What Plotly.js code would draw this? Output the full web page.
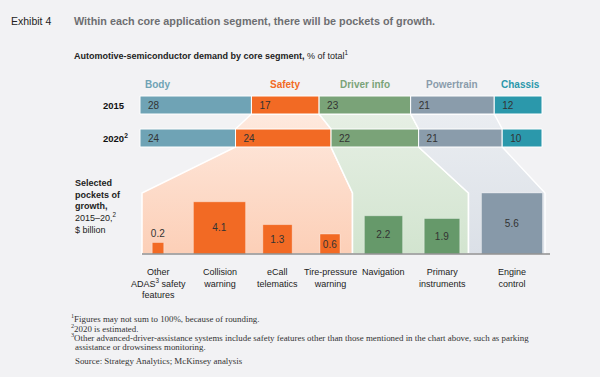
<!DOCTYPE html>
<html>
<head>
<meta charset="utf-8">
<script src="https://cdn.plot.ly/plotly-3.0.1.min.js"></script>
<style>html,body{margin:0;padding:0;background:#f2f2f4;}#chart{width:600px;height:377px;}</style>
</head>
<body>
<div id="chart"></div>
<script>
// ---------- DATA ----------
const segments = ['Body', 'Safety', 'Driver info', 'Powertrain', 'Chassis'];
const share2015 = [28, 17, 23, 21, 12];
const share2020 = [24, 24, 22, 21, 10];
const years = ['2015', '2020<sup>2</sup>'];

const pockets = ['Other<br>ADAS<sup>3</sup> safety<br>features', 'Collision<br>warning', 'eCall<br>telematics',
                 'Tire-pressure<br>warning', 'Navigation', 'Primary<br>instruments', 'Engine<br>control'];
const growth = [0.2, 4.1, 1.3, 0.6, 2.2, 1.9, 5.6];
const growthLabels = ['0.2', '4.1', '1.3', '0.6', '2.2', '1.9', '5.6'];
const pocketSegment = [1, 1, 1, 1, 2, 2, 3];

const footnotes = [
  '<sup>1</sup>Figures may not sum to 100%, because of rounding.',
  '<sup>2</sup>2020 is estimated.',
  '<sup>3</sup>Other advanced-driver-assistance systems include safety features other than those mentioned in the chart above, such as parking',
  'assistance or drowsiness monitoring.'
];
const sourceText = 'Source: Strategy Analytics; McKinsey analysis';

// ---------- STYLE / LAYOUT ----------
const segColors = ['#6fa3b5', '#f26a24', '#7aa378', '#8a9cab', '#2b98ab'];
const pocketColors = {1: '#f26a24', 2: '#66996a', 3: '#8799a9'};
const funnelFill = {
  1: ['#fccfb7', '#fee9de'],
  2: ['#d2e4cf', '#e6efe4'],
  3: ['#dbe0e7', '#eaedf1']
};
const W = 600, H = 377;
const K = 402 / 101;              // px per unit (shared x / y scale)
const X0 = 140, BASE = 254;       // pixel anchors
const ux = px => (px - X0) / K;
const uy = py => (BASE - py) / K;
const pxp = px => px / W;
const pyp = py => 1 - py / H;

const rowY = [uy(105), uy(138)];
const rowW = 18 / K;
const pocketCentersPx = [158, 219.5, 277.5, 330, 383.5, 442, 512];
const funnelBottomPx = {1: [142, 352.5], 2: [352.5, 468.5], 3: [468.5, 545]};
const shoulderY = uy(193);
const sideScale = 6.48;           // square side units per sqrt($bn), area ∝ value

function cum(arr) { const out = []; let s = 0; arr.forEach(v => { out.push(s); s += v; }); return out; }
const cum2015 = cum(share2015);
const cum2020 = cum(share2020);

const traces = [];

// funnel polygons (bottom layer: x / y)
[1, 2, 3].forEach(i => {
  const s15 = cum2015[i], e15 = s15 + share2015[i];
  const s20 = cum2020[i], e20 = s20 + share2020[i];
  const y15b = rowY[0] - rowW / 2, y20t = rowY[1] + rowW / 2, y20b = rowY[1] - rowW / 2;
  const [bl, br] = funnelBottomPx[i].map(ux);
  traces.push({
    type: 'scatter', mode: 'lines', fill: 'toself', hoverinfo: 'skip', showlegend: false,
    x: [s15, e15, e20, e20, br, br, bl, bl, s20, s20, s15],
    y: [y15b, y15b, y20t, y20b, shoulderY, 0, 0, shoulderY, y20b, y20t, y15b],
    line: {color: '#ffffff', width: 1.5},
    fillcolor: funnelFill[i][0],
    fillgradient: {type: 'vertical', start: 0, stop: y15b,
                   colorscale: [[0, funnelFill[i][0]], [1, funnelFill[i][1]]]}
  });
});

// stacked horizontal bars (x2 / y2): one trace per year row
years.forEach((yr, r) => {
  const vals = r === 0 ? share2015 : share2020;
  const bases = r === 0 ? cum2015 : cum2020;
  traces.push({
    type: 'bar', orientation: 'h', showlegend: false, hoverinfo: 'skip', xaxis: 'x2', yaxis: 'y2',
    y: segments.map(() => rowY[r]), x: vals, base: bases,
    width: segments.map(() => rowW),
    marker: {color: segColors, line: {color: '#ffffff', width: 1}},
    text: vals.map(v => '\u2002' + v),
    textposition: 'inside', insidetextanchor: 'start', constraintext: 'none',
    textfont: {family: 'Liberation Sans, Arial, sans-serif', size: 10, color: '#333333'}
  });
});

// pocket squares (area proportional to value) on x3 / y3, same scale
const sides = growth.map(v => sideScale * Math.sqrt(v));
traces.push({
  type: 'bar', showlegend: false, hoverinfo: 'skip', xaxis: 'x3', yaxis: 'y3',
  x: pocketCentersPx.map(ux), y: sides, width: sides, base: 0,
  marker: {color: pocketSegment.map(s => pocketColors[s]), line: {color: 'rgba(255,255,255,0.35)', width: 1}},
  text: growthLabels,
  textposition: growth.map((v, i) => i === 0 ? 'outside' : 'inside'),
  insidetextanchor: 'middle', constraintext: 'none', cliponaxis: false,
  textfont: {family: 'Liberation Sans, Arial, sans-serif', size: 10, color: '#333333'}
});

// baseline
traces.push({
  type: 'scatter', mode: 'lines', hoverinfo: 'skip', showlegend: false, xaxis: 'x3', yaxis: 'y3',
  x: [ux(142), ux(550)], y: [0, 0], line: {color: '#8e8e8e', width: 1.5}
});

const sans = 'Liberation Sans, Arial, sans-serif';
const serif = 'Liberation Serif, Georgia, serif';
const ann = [];
ann.push({text: 'Exhibit 4', x: pxp(9), y: pyp(21), xref: 'paper', yref: 'paper', xanchor: 'left', yanchor: 'middle',
          showarrow: false, font: {family: sans, size: 10.5, color: '#222'}});
ann.push({text: '<b>Within each core application segment, there will be pockets of growth.</b>', x: pxp(72), y: pyp(21),
          xref: 'paper', yref: 'paper', xanchor: 'left', yanchor: 'middle', showarrow: false,
          font: {family: sans, size: 10.8, color: '#6d6e71'}});
ann.push({text: '<b>Automotive-semiconductor demand by core segment,</b> % of total<sup>1</sup>', x: pxp(72), y: pyp(55),
          xref: 'paper', yref: 'paper', xanchor: 'left', yanchor: 'middle', showarrow: false,
          font: {family: sans, size: 9, color: '#222'}});
// segment labels
segments.forEach((seg, i) => {
  let x, xa;
  if (i === 0) { x = cum2015[i] + 0.7; xa = 'left'; }
  else if (i === segments.length - 1) { x = cum2015[i] + share2015[i]; xa = 'right'; }
  else { x = cum2015[i] + share2015[i] / 2; xa = 'center'; }
  ann.push({text: '<b>' + seg + '</b>', x: x, y: pyp(85), xref: 'x', yref: 'paper', xanchor: xa, yanchor: 'middle',
            showarrow: false, font: {family: sans, size: 10, color: segColors[i]}});
});
// year labels
years.forEach((yr, i) => {
  ann.push({text: '<b>' + yr + '</b>', x: pxp(101), y: rowY[i], xref: 'paper', yref: 'y', xanchor: 'left', yanchor: 'middle',
            showarrow: false, font: {family: sans, size: 9.5, color: '#111'}});
});
// left block
ann.push({text: '<b>Selected</b><br><b>pockets of</b><br><b>growth,</b><br>2015–20,<sup>2</sup><br>$ billion',
          x: pxp(73), y: pyp(176), xref: 'paper', yref: 'paper', xanchor: 'left', yanchor: 'top', align: 'left',
          showarrow: false, font: {family: sans, size: 9, color: '#222'}});
// pocket labels
pockets.forEach((p, i) => {
  ann.push({text: p, x: ux(pocketCentersPx[i]), y: pyp(265), xref: 'x', yref: 'paper', xanchor: 'center', yanchor: 'top',
            align: 'center', showarrow: false, font: {family: sans, size: 9, color: '#222'}});
});
// footnotes
const footY = [318, 327.5, 337, 346.5];
const footX = [69, 69, 69, 73];
footnotes.forEach((f, i) => {
  ann.push({text: f, x: pxp(footX[i]), y: pyp(footY[i]), xref: 'paper', yref: 'paper', xanchor: 'left', yanchor: 'middle',
            showarrow: false, font: {family: serif, size: 8.9, color: '#333'}});
});
ann.push({text: sourceText, x: pxp(73), y: pyp(361), xref: 'paper', yref: 'paper',
          xanchor: 'left', yanchor: 'middle', showarrow: false, font: {family: serif, size: 8.9, color: '#333'}});

const xr = [ux(0), ux(W)], yr = [uy(H), uy(0)];
const ax = extra => Object.assign({range: xr, visible: false, fixedrange: true}, extra);
const ay = extra => Object.assign({range: yr, visible: false, fixedrange: true}, extra);
const layout = {
  width: W, height: H,
  margin: {l: 0, r: 0, t: 0, b: 0},
  paper_bgcolor: '#f2f2f4', plot_bgcolor: 'rgba(0,0,0,0)',
  barmode: 'overlay', bargap: 0,
  xaxis: ax({}), yaxis: ay({}),
  xaxis2: ax({overlaying: 'x'}), yaxis2: ay({overlaying: 'y'}),
  xaxis3: ax({overlaying: 'x'}), yaxis3: ay({overlaying: 'y'}),
  annotations: ann,
  showlegend: false
};

Plotly.newPlot('chart', traces, layout, {staticPlot: true, displayModeBar: false});
</script>
</body>
</html>
